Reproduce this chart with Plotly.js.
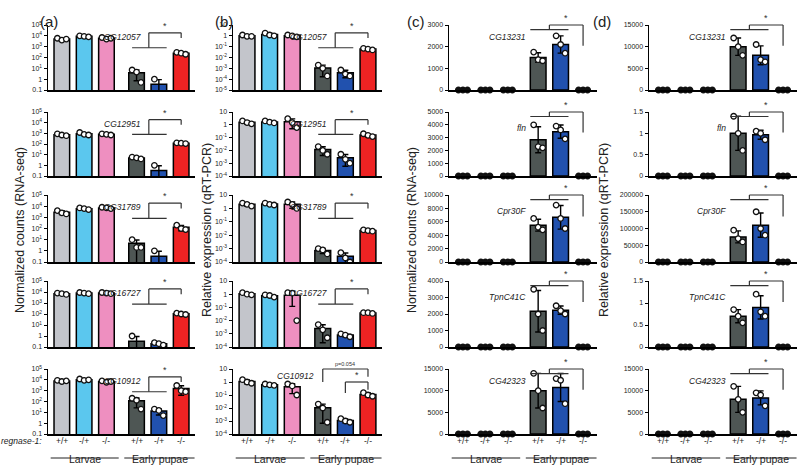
<!DOCTYPE html>
<html><head><meta charset="utf-8">
<script src="https://cdn.plot.ly/plotly-3.0.1.min.js"></script>
<style>html,body{margin:0;padding:0;background:#fff}#chart{width:800px;height:474px}</style>
</head><body><div id="chart"></div>
<script>
// ---------- categories ----------
const genotypes = ['+/+','-/+','-/-','+/+','-/+','-/-'];
const stages = ['Larvae','Early pupae'];
const genesLog = ['CG12057','CG12951','CG31789','CG16727','CG10912'];
const genesLin = ['CG13231','fln','Cpr30F','TpnC41C','CG42323'];
const panelLetters = ['(a)','(b)','(c)','(d)'];

// ---------- (a) RNA-seq normalized counts, 3 replicates per group ----------
const rnaCG12057 = [[6000,4000,5000],[10000,9000,8000],[7000,5000,6000],[7,4.5,0.5],[1,0,0],[300,250,200]];
const rnaCG12951 = [[900,700,600],[1200,800,700],[900,800,700],[6,5,4],[1,0,0],[130,120,110]];
const rnaCG31789 = [[4000,2500,2000],[7000,6000,5000],[8000,7000,6000],[10,2,2],[1,0,0],[200,100,80]];
const rnaCG16727 = [[8000,7000,6000],[9000,8000,7000],[9000,8000,7000],[1,0,0],[0.25,0.2,0.15],[120,100,90]];
const rnaCG10912 = [[9000,7000,8000],[12000,9000,10000],[8000,6000,7000],[200,130,20],[20,15,5],[3000,1000,800]];

// ---------- (b) qRT-PCR relative expression ----------
const qpcrCG12057 = [[1.2,0.9,0.9],[1.8,1.2,1.0],[1.2,1.0,0.8],[0.002,0.001,0.0002],[0.0007,0.0003,0.0002],[0.07,0.06,0.05]];
const qpcrCG12951 = [[2,1.5,1.2],[2,1.6,1.4],[3,1.5,0.6],[0.02,0.01,0.005],[0.005,0.002,0.001],[0.2,0.15,0.12]];
const qpcrCG31789 = [[2.5,2,1.5],[2.5,2,1.8],[3,2,1],[0.001,0.0008,0.0004],[0.0005,0.0002,0.0001],[0.025,0.022,0.02]];
const qpcrCG16727 = [[1.3,1.0,0.9],[0.9,0.8,0.6],[1.3,1.2,0.01],[0.005,0.002,0.0005],[0.001,0.0008,0.0006],[0.04,0.04,0.035]];
const qpcrCG10912 = [[1.5,1,0.8],[0.7,0.6,0.55],[0.7,0.5,0.1],[0.02,0.01,0.0008],[0.0015,0.001,0.0008],[0.15,0.1,0.08]];

// ---------- (c) RNA-seq normalized counts ----------
const rnaCG13231 = [[0,0,0],[0,0,0],[0,0,0],[1750,1400,1350],[2500,2100,1700],[0,0,0]];
const rnaFln     = [[0,0,0],[0,0,0],[0,0,0],[4000,2300,2200],[3900,3600,2900],[0,0,0]];
const rnaCpr30F  = [[0,0,0],[0,0,0],[0,0,0],[6500,5200,4800],[8500,6500,5000],[0,0,0]];
const rnaTpnC41C = [[0,0,0],[0,0,0],[0,0,0],[3500,2000,1000],[2500,2200,2000],[0,0,0]];
const rnaCG42323 = [[0,0,0],[0,0,0],[0,0,0],[14000,10000,6000],[12800,12400,7000],[0,0,0]];

// ---------- (d) qRT-PCR relative expression ----------
const qpcrCG13231 = [[0,0,0],[0,0,0],[0,0,0],[12000,10000,8000],[10500,7000,6500],[0,0,0]];
const qpcrFln     = [[0,0,0],[0,0,0],[0,0,0],[1.4,1.0,0.6],[1.05,1.0,0.85],[0,0,0]];
const qpcrCpr30F  = [[0,0,0],[0,0,0],[0,0,0],[95000,70000,60000],[150000,100000,80000],[0,0,0]];
const qpcrTpnC41C = [[0,0,0],[0,0,0],[0,0,0],[0.85,0.7,0.55],[1.2,0.8,0.7],[0,0,0]];
const qpcrCG42323 = [[0,0,0],[0,0,0],[0,0,0],[11000,8000,5000],[9500,9000,6500],[0,0,0]];

// ---------- assemble ----------
const columns = [
  [rnaCG12057, rnaCG12951, rnaCG31789, rnaCG16727, rnaCG10912],
  [qpcrCG12057, qpcrCG12951, qpcrCG31789, qpcrCG16727, qpcrCG10912],
  [rnaCG13231, rnaFln, rnaCpr30F, rnaTpnC41C, rnaCG42323],
  [qpcrCG13231, qpcrFln, qpcrCpr30F, qpcrTpnC41C, qpcrCG42323]
];
const colors = ['#c3c5cb','#5bc7ee','#ee8fc0','#4e5654','#2151ae','#ee2323'];
const W = 800, H = 474;
const colPx = [[48,195],[233,382],[449,597],[649,797]];
const rowPx = [[25,90],[112,176],[195,262],[281,347],[369,434]];
const linRanges = [
  [[0,3000,1000],[0,5000,1000],[0,10000,2000],[0,4000,1000],[0,15000,5000]],
  [[0,15000,5000],[0,1.5,0.5],[0,200000,50000],[0,1.5,0.5],[0,15000,5000]]
];
const pos = genotypes.map((g,i)=> i<3 ? i : i+0.35);
const jit = [-0.2, 0, 0.2];
const FONT = 'Liberation Sans, Arial, sans-serif';

const mean = a => a.reduce((s,v)=>s+v,0)/a.length;
const sd = a => { const m = mean(a); return Math.sqrt(a.reduce((s,v)=>s+(v-m)*(v-m),0)/(a.length-1)); };

const traces = [], shapes = [], annotations = [];
const layout = {width:W, height:H, margin:{l:0,r:0,t:0,b:0}, showlegend:false,
  paper_bgcolor:'#fff', plot_bgcolor:'rgba(0,0,0,0)', font:{family:FONT, color:'#222'}};

function ln(xref, yref, x0, y0, x1, y1, c, w){
  shapes.push({type:'line', xref, yref, x0, y0, x1, y1, line:{color:c||'#333', width:w||1.2}});
}

for (let c=0;c<4;c++){
  for (let r=0;r<5;r++){
    const k = c*5 + r;
    const id = k===0 ? '' : String(k+1);
    const xa = 'x'+id, ya = 'y'+id;
    const pts = columns[c][r];
    const isLog = c < 2;
    const means = pts.map(mean), sds = pts.map(sd);

    traces.push({type:'bar', x:pos, y:means, xaxis:xa, yaxis:ya, width:0.7,
      marker:{color:colors, line:{color:'#000', width:1.5}},
      error_y:{type:'data', array:sds, visible:true, color:'#000', thickness:1.4, width:3},
      hoverinfo:'skip'});

    const dx=[], dy=[], dc=[];
    pts.forEach((g,i)=>g.forEach((v,j)=>{
      if (isLog && v<=0) return;
      dx.push(pos[i]+jit[j]); dy.push(v); dc.push(v===0 ? '#111' : '#fff');
    }));
    traces.push({type:'scatter', mode:'markers', x:dx, y:dy, xaxis:xa, yaxis:ya,
      cliponaxis: !isLog ? false : true,
      marker:{size:5.5, color:dc, line:{color:'#111', width:1.3}}, hoverinfo:'skip'});

    const xd = [colPx[c][0]/W, colPx[c][1]/W];
    const yd = [1-rowPx[r][1]/H, 1-rowPx[r][0]/H];
    layout['xaxis'+id] = {domain:xd, anchor:ya, range:[-0.62,5.97], showline:true, linecolor:'#000',
      linewidth:1.5, ticks:'', showticklabels:false, showgrid:false, zeroline:false, fixedrange:true};
    let ya_ = {domain:yd, anchor:xa, showline:true, linecolor:'#000', linewidth:1.5, ticks:'outside',
      ticklen:3, tickwidth:1, tickcolor:'#000', showgrid:false, zeroline:false, fixedrange:true,
      tickfont:{size:7, family:FONT, color:'#222'}};
    if (isLog){
      const lo = c===0 ? -1 : (r===0 ? -5 : -4), hi = c===0 ? 5 : 1;
      const tv=[], tt=[];
      for (let e=lo;e<=hi;e++){
        tv.push(Math.pow(10,e));
        if (e===0) tt.push('1');
        else if (c===0 && e===-1) tt.push('0.1');
        else if (c===1 && e===1) tt.push('10');
        else tt.push('10<sup>'+e+'</sup>');
      }
      Object.assign(ya_, {type:'log', range:[lo,hi], tickvals:tv, ticktext:tt});
    } else {
      const [lo,hi,dt] = linRanges[c-2][r];
      Object.assign(ya_, {type:'linear', range:[lo,hi], tick0:0, dtick:dt, exponentformat:'none'});
      if (dt >= 1) ya_.tickformat = 'd';
    }
    layout['yaxis'+id] = ya_;

    const yD = ya + ' domain';
    // significance brackets
    if (isLog && !(c===1 && r===4)){
      const L=0.65, U=0.88, D=0.8;
      const mid = (pos[3]+pos[4])/2 + 0.05;
      ln(xa,yD,pos[3]-0.2,L,pos[4]+0.35,L);
      ln(xa,yD,mid,L,mid,U);
      ln(xa,yD,mid,U,pos[5],U);
      ln(xa,yD,pos[5],U,pos[5],D);
      annotations.push({xref:xa, yref:yD, x:(mid+pos[5])/2, y:U, text:'*', showarrow:false,
        yanchor:'bottom', font:{size:9, color:'#333'}});
      annotations.push({xref:xa, yref:yD, x:2.7, y:0.92, text:'<i>'+genesLog[r]+'</i>', showarrow:false,
        font:{size:8.5, color:'#222'}});
    } else if (isLog){
      // (b) last row: two comparisons
      ln(xa,yD,pos[3],0.8,pos[3],1.0);
      ln(xa,yD,pos[3],1.0,pos[5],1.0);
      ln(xa,yD,pos[5],1.0,pos[5],0.88);
      ln(xa,yD,pos[4],0.63,pos[4],0.8);
      ln(xa,yD,pos[4],0.8,pos[5],0.8);
      ln(xa,yD,pos[5],0.8,pos[5],0.68);
      annotations.push({xref:xa, yref:yD, x:(pos[3]+pos[5])/2, y:1.0, text:'p=0.054', showarrow:false,
        yanchor:'bottom', font:{size:5.5, color:'#333'}});
      annotations.push({xref:xa, yref:yD, x:(pos[4]+pos[5])/2, y:0.8, text:'*', showarrow:false,
        yanchor:'bottom', font:{size:9, color:'#333'}});
      annotations.push({xref:xa, yref:yD, x:pos[3]-0.3, y:1.0, xanchor:'right', text:'<i>'+genesLog[r]+'</i>',
        showarrow:false, font:{size:8.5, color:'#222'}});
    } else {
      const L=0.93, U=1.0, D=0.68;
      const mid = (pos[3]+pos[4])/2;
      ln(xa,yD,pos[3]-0.35,L,pos[4]+0.35,L);
      ln(xa,yD,mid,L,mid,U);
      ln(xa,yD,mid,U,pos[5],U);
      ln(xa,yD,pos[5],U,pos[5],D);
      annotations.push({xref:xa, yref:yD, x:(mid+pos[5])/2, y:U, text:'*', showarrow:false,
        yanchor:'bottom', font:{size:9, color:'#333'}});
      annotations.push({xref:xa, yref:yD, x:pos[3]-0.45, y:(r===1||r===2||r===3)?0.86:L, xanchor:'right',
        text:'<i>'+genesLin[r]+'</i>', showarrow:false, font:{size:8.5, color:'#222'}});
    }

    // bottom row: genotype labels, stage lines, stage labels
    if (r===4){
      genotypes.forEach((g,i)=>annotations.push({xref:xa, yref:'paper', x:pos[i], y:1-448/H, text:g,
        showarrow:false, font:{size:8.5, color:'#222'}}));
      ln(xa,'paper',-0.5,1-458/H,2.55,1-458/H,'#222',1);
      ln(xa,'paper',2.8,1-458/H,5.95,1-458/H,'#222',1);
      annotations.push({xref:xa, yref:'paper', x:1.02, y:1-467/H, text:stages[0], showarrow:false,
        font:{size:10.5, color:'#222'}});
      annotations.push({xref:xa, yref:'paper', x:4.38, y:1-467/H, text:stages[1], showarrow:false,
        font:{size:10.5, color:'#222'}});
    }
  }
}

// axis titles
const ytitles = ['Normalized counts (RNA-seq)','Relative expression (qRT-PCR)','Normalized counts (RNA-seq)','Relative expression (qRT-PCR)'];
const ytx = [11, 198, 412, 613];
ytitles.forEach((t,i)=>annotations.push({xref:'paper', yref:'paper', x:ytx[i]/W, y:1-230/H, text:t,
  textangle:-90, showarrow:false, font:{size:12.5, color:'#222'}}));
// panel letters
const ptx = [38, 213, 416, 613];
panelLetters.forEach((t,i)=>annotations.push({xref:'paper', yref:'paper', x:ptx[i]/W, y:1-11/H, text:t,
  showarrow:false, font:{size:15, color:'#222'}}));
annotations.push({xref:'paper', yref:'paper', x:44/W, y:1-448/H, xanchor:'right', text:'<i>regnase-1:</i>',
  showarrow:false, font:{size:8.5, color:'#222'}});

layout.shapes = shapes;
layout.annotations = annotations;
Plotly.newPlot('chart', traces, layout, {staticPlot:true, displayModeBar:false});
</script>
</body></html>
